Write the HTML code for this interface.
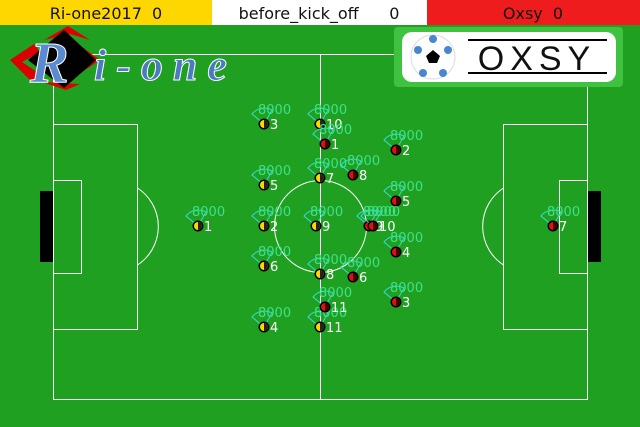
<!DOCTYPE html>
<html><head><meta charset="utf-8"><style>
body{margin:0;width:640px;height:427px;overflow:hidden;background:#1f9f1f;font-family:"DejaVu Sans","Liberation Sans",sans-serif}
svg{display:block}
</style></head><body>
<svg width="640" height="427">
<rect x="0" y="0" width="640" height="427" fill="#20a020"/>
<g stroke="#fff" stroke-width="1" fill="none">
<rect x="53.5" y="54.5" width="534" height="345"/>
<line x1="320.5" y1="54" x2="320.5" y2="400"/>
<circle cx="320.5" cy="226.5" r="46"/>
<rect x="53.5" y="124.5" width="84" height="205"/>
<rect x="53.5" y="180.5" width="28" height="93"/>
<rect x="503.5" y="124.5" width="84" height="205"/>
<rect x="559.5" y="180.5" width="28" height="93"/>
<path d="M137.5 188 A46 46 0 0 1 137.5 265"/>
<path d="M503.5 188 A46 46 0 0 0 503.5 265"/>
</g>
<rect x="40" y="191" width="13" height="71" fill="#000"/>
<rect x="588" y="191" width="13" height="71" fill="#000"/>
<rect x="0" y="0" width="212" height="25" fill="#ffd700"/>
<rect x="212" y="0" width="215" height="25" fill="#fff"/>
<rect x="427" y="0" width="213" height="25" fill="#ee1c1c"/>
<text x="106" y="19" font-size="16" text-anchor="middle" fill="#111" xml:space="preserve">Ri-one2017  0</text>
<text x="319" y="19" font-size="16" text-anchor="middle" fill="#111" xml:space="preserve">before_kick_off      0</text>
<text x="533" y="19" font-size="16" text-anchor="middle" fill="#111" xml:space="preserve">Oxsy  0</text>
<g>
<polygon points="10,60 34,44 40,52 22,62 40,74 32,82" fill="#d00"/>
<polygon points="44,40 68,26 90,40 70,34" fill="#d00"/>
<polygon points="78,44 100,60 76,76 72,68 86,60 72,50" fill="#d00"/>
<polygon points="42,82 66,90 80,84" fill="#d00"/>
<polygon points="28,60 64,30 96,60 64,88" fill="#000"/>
<text x="30" y="82" font-family="Liberation Serif,serif" font-style="italic" font-weight="bold" font-size="58" fill="#5a8ad0" stroke="#fff" stroke-width="1">R</text>
<text x="94" y="80" font-family="Liberation Serif,serif" font-style="italic" font-weight="bold" font-size="44" fill="#4a7ac0" stroke="#fff" stroke-width="1" letter-spacing="10">i-one</text>
</g>
<g>
<rect x="394" y="27" width="229" height="60" rx="4" fill="#3fc23f"/>
<rect x="402" y="32" width="214" height="50" rx="10" fill="#fff"/>
<circle cx="433" cy="57" r="22" fill="#fff" stroke="#ddd"/>
<polygon points="433,50 440,56 437,63 429,63 426,56" fill="#000"/>
<circle cx="433" cy="39" r="4" fill="#4a86d0"/><circle cx="418" cy="50" r="4" fill="#4a86d0"/><circle cx="448" cy="50" r="4" fill="#4a86d0"/><circle cx="423" cy="73" r="4" fill="#4a86d0"/><circle cx="443" cy="73" r="4" fill="#4a86d0"/>
<line x1="468" y1="40" x2="607" y2="40" stroke="#000" stroke-width="2"/>
<line x1="468" y1="73" x2="607" y2="73" stroke="#000" stroke-width="2"/>
<text x="537" y="70" font-size="34" text-anchor="middle" fill="#111" letter-spacing="6" font-family="Liberation Sans,sans-serif">OXSY</text>
</g>
<g id="players"></g>
</svg>
<script>
const yelX=[198,264,264,264,264,264,320,320,316,320,320];
const yelY=[226,226,124,327,185,266,178,274,226,124,327];
const redX=[325,396,396,396,396,353,553,353,369,373,325];
const redY=[144,150,302,252,201,277,226,175,226,226,307];
const stamina="8000";
const g=document.getElementById('players');
const NS='http://www.w3.org/2000/svg';
function mk(t,a){const e=document.createElementNS(NS,t);for(const k in a)e.setAttribute(k,a[k]);return e;}
function draw(xs,ys,fill,half,team){
  xs.forEach((x,i)=>{
    const y=ys[i];
    const grp=mk('g',{});
    
    
    grp.appendChild(mk('path',{d:`M${x} ${y} L${x-12} ${y-10} A16 16 0 0 1 ${x+8} ${y-14} Z`,fill:'none',stroke:'#3ad8d8','stroke-width':1}));
    grp.appendChild(mk('circle',{cx:x,cy:y,r:5.5,fill:'#000'}));
    grp.appendChild(mk('circle',{cx:x,cy:y,r:4,fill:fill}));
    grp.appendChild(mk('path',{d:`M${x} ${y-4} A4 4 0 0 1 ${x} ${y+4} Z`,fill:half}));
    const t1=mk('text',{x:x-6,y:y-10,'font-size':13,fill:'#3ee08a'});t1.textContent=stamina;grp.appendChild(t1);
    const t2=mk('text',{x:x+6,y:y+5,'font-size':13,fill:'#fff'});t2.textContent=String(i+1);grp.appendChild(t2);
    g.appendChild(grp);
  });
}
draw(yelX,yelY,'#ffd700','#222','left');
draw(redX,redY,'#e01010','#400','right');
</script>
</body></html>
